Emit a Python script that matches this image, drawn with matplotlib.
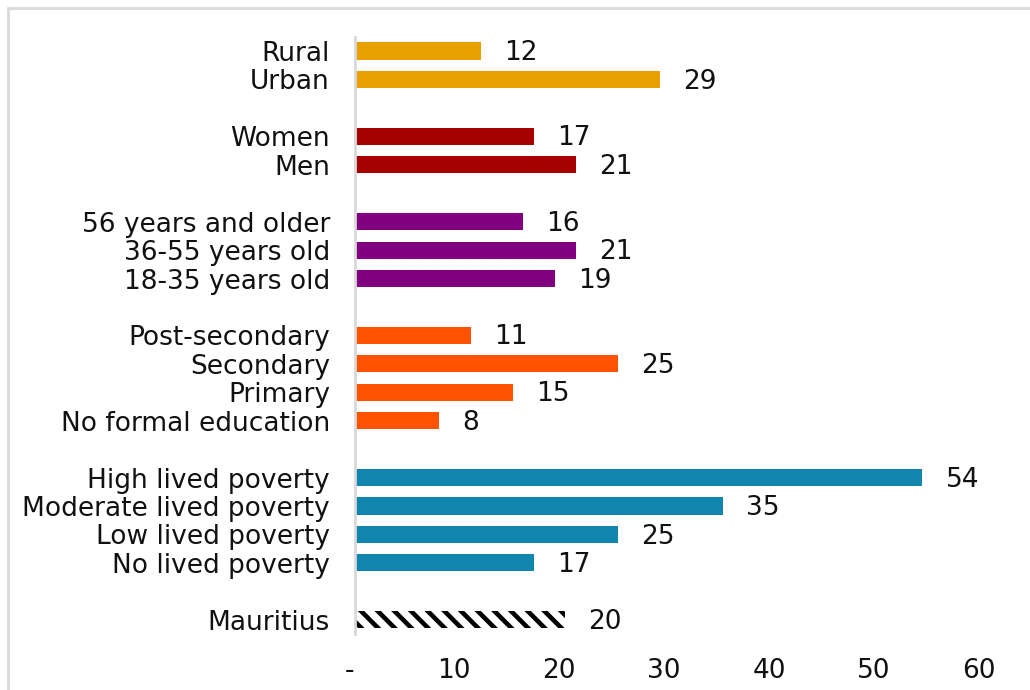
import numpy as np
import matplotlib.pyplot as plt
from matplotlib.patches import Rectangle
from matplotlib.transforms import offset_copy

plt.rcParams['font.family'] = ['DejaVu Sans']
plt.rcParams['hatch.linewidth'] = 3.3

# groups, top to bottom; a blank slot separates each group
residence = ["Rural", "Urban"]
residence_vals = [12, 29]
gender = ["Women", "Men"]
gender_vals = [17, 21]
age = ["56 years and older", "36-55 years old", "18-35 years old"]
age_vals = [16, 21, 19]
education = ["Post-secondary", "Secondary", "Primary", "No formal education"]
education_vals = [11, 25, 15, 8]
poverty = ["High lived poverty", "Moderate lived poverty", "Low lived poverty", "No lived poverty"]
poverty_vals = [54, 35, 25, 17]
national = ["Mauritius"]
national_vals = [20]

groups = [
    (residence, residence_vals, "#E8A000"),
    (gender, gender_vals, "#A60000"),
    (age, age_vals, "#80007F"),
    (education, education_vals, "#FF5200"),
    (poverty, poverty_vals, "#1085AD"),
    (national, national_vals, None),
]

fig = plt.figure(figsize=(10.3, 6.9), dpi=100)
ax = fig.add_axes([355 / 1030, 1 - 634 / 690, 630 / 1030, (634 - 36.8) / 690])

labels, positions = [], []
slot = 0
for names, vals, color in groups:
    for name, v in zip(names, vals):
        if color is None:
            # national average: black diagonal stripes on white
            ax.barh(slot, v, height=0.6, color="white", edgecolor="black",
                    linewidth=0, hatch="\\\\")
        else:
            ax.barh(slot, v, height=0.6, color=color)
        ax.annotate(f"{v}", xy=(v, slot), xytext=(17, -1.5), textcoords="offset points",
                    fontsize=19, va="center", ha="left", color="#111111")
        labels.append(name)
        positions.append(slot)
        slot += 1
    slot += 1

ax.set_ylim(slot - 1.5, -0.5)
ax.set_xlim(0, 60)
ax.set_yticks(positions)
ax.set_yticklabels(labels, fontsize=19, color="#111111")
ax.set_xticks(np.arange(0, 61, 10))
ax.set_xticklabels(["-"] + [str(t) for t in range(10, 61, 10)], fontsize=19, color="#111111")
ax.tick_params(axis="y", length=0, pad=18)
ax.tick_params(axis="x", length=0, pad=17)
for lab in ax.get_xticklabels():
    lab.set_transform(offset_copy(lab.get_transform(), fig=fig, x=-6, units="dots"))

for side in ["top", "right", "bottom"]:
    ax.spines[side].set_visible(False)
ax.spines["left"].set_color("#d9d9d9")
ax.spines["left"].set_linewidth(2)

# light frame around the chart area
fig.patches.append(Rectangle((8 / 1030, -0.1), 1.2, 1.1 - 8.5 / 690, transform=fig.transFigure,
                             fill=False, edgecolor="#d9d9d9", linewidth=2))

fig.savefig("out.png", dpi=100)
